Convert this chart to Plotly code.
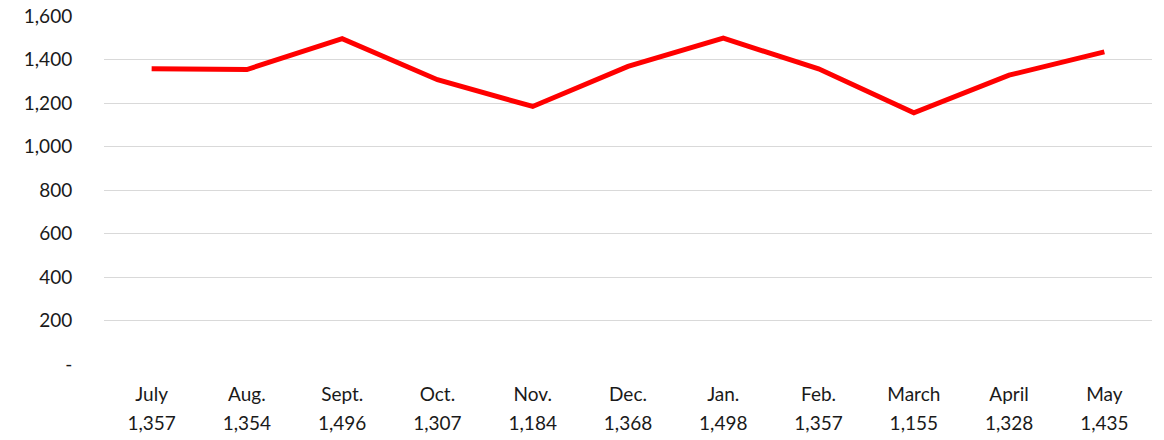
import plotly.graph_objects as go

months = ["July", "Aug.", "Sept.", "Oct.", "Nov.", "Dec.", "Jan.", "Feb.", "March", "April", "May"]
values = [1357, 1354, 1496, 1307, 1184, 1368, 1498, 1357, 1155, 1328, 1435]
y_ticks = [0, 200, 400, 600, 800, 1000, 1200, 1400, 1600]
y_tick_labels = ["-", "200", "400", "600", "800", "1,000", "1,200", "1,400", "1,600"]

xpos = list(range(len(months)))
value_labels = [f"{v:,}" for v in values]

fig = go.Figure()
fig.add_trace(go.Scatter(
    x=xpos, y=values, mode="lines",
    line=dict(color="#ff0000", width=5),
    hoverinfo="skip",
))
# invisible helper trace so the second x axis (value labels) is drawn
fig.add_trace(go.Scatter(
    x=xpos, y=values, mode="lines", xaxis="x2",
    line=dict(color="rgba(0,0,0,0)", width=0),
    hoverinfo="skip",
))

font = dict(family="Lato, 'Open Sans', sans-serif", size=19, color="#1a1a1a")
xr = [-0.5, len(months) - 0.5]

fig.update_layout(
    width=1164, height=440,
    margin=dict(l=104, r=12, t=16, b=76),
    paper_bgcolor="white", plot_bgcolor="white",
    showlegend=False,
    font=font,
    xaxis=dict(
        range=xr, automargin=False,
        tickmode="array", tickvals=xpos, ticktext=months,
        showgrid=False, zeroline=False, showline=False,
        ticks="outside", ticklen=13, tickcolor="rgba(0,0,0,0)",
        tickfont=font,
    ),
    xaxis2=dict(
        range=xr, automargin=False, overlaying="x", side="bottom", anchor="y",
        tickmode="array", tickvals=xpos, ticktext=value_labels,
        showgrid=False, zeroline=False, showline=False,
        ticks="outside", ticklen=42, tickcolor="rgba(0,0,0,0)",
        tickfont=font,
    ),
    yaxis=dict(
        range=[0, 1600], automargin=False,
        tickmode="array", tickvals=y_ticks, ticktext=y_tick_labels,
        showgrid=True, gridcolor="#d9d9d9", gridwidth=1,
        zeroline=False, showline=False,
        ticks="outside", ticklen=27, tickcolor="rgba(0,0,0,0)",
        tickfont=font,
    ),
)

fig.write_html("out.html")
